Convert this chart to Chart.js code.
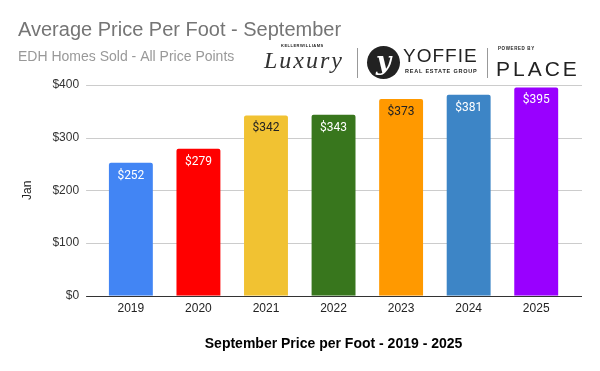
<!DOCTYPE html>
<html>
<head>
<meta charset="utf-8">
<script src="https://cdn.jsdelivr.net/npm/chart.js@4"></script>
<style>
  body { margin: 0; background: #fff; }
  #wrap { position: relative; width: 600px; height: 371px; }
  .logo { position: absolute; color: #222; font-family: "Liberation Sans", Arial, sans-serif; white-space: nowrap; }
  .rule { position: absolute; width: 1px; background: #999; }
</style>
</head>
<body>
<div id="wrap">
  <canvas id="chart" width="600" height="371"></canvas>

  <div class="logo" style="left:281px;top:43px;font-size:4px;font-weight:bold;letter-spacing:0.5px;">KELLERWILLIAMS</div>
  <div class="logo" style="left:264px;top:47px;font-size:24px;font-family:'Liberation Serif',serif;font-style:italic;letter-spacing:2px;color:#333;">Luxury</div>
  <div class="rule" style="left:357px;top:48px;height:30px;"></div>
  <div class="logo" style="left:367px;top:46px;width:33px;height:33px;border-radius:50%;background:#222;color:#fff;font-family:'DejaVu Serif',serif;font-style:italic;font-weight:bold;font-size:26px;line-height:30px;text-align:center;">y</div>
  <div class="logo" style="left:403px;top:45px;font-size:19px;letter-spacing:1px;">YOFFIE</div>
  <div class="logo" style="left:405px;top:68px;font-size:5.5px;font-weight:bold;letter-spacing:0.8px;">REAL ESTATE GROUP</div>
  <div class="rule" style="left:487px;top:48px;height:30px;"></div>
  <div class="logo" style="left:498px;top:46px;font-size:4.5px;font-weight:bold;letter-spacing:0.6px;">POWERED BY</div>
  <div class="logo" style="left:496px;top:57px;font-size:21px;letter-spacing:3px;">PLACE</div>
</div>
<script>
const years = ['2019', '2020', '2021', '2022', '2023', '2024', '2025'];
const pricePerFoot = [252, 279, 342, 343, 373, 381, 395];
const barColors = ['#4285f4', '#ff0000', '#f1c232', '#38761d', '#ff9900', '#3d85c6', '#9900ff'];
const labelColors = ['#fff', '#fff', '#222', '#fff', '#222', '#fff', '#fff'];
const yTicks = [0, 100, 200, 300, 400];

// grid lines reach a bit past the bars on both sides, like the sheet export
const gridPlugin = {
  id: 'sheetGrid',
  beforeDatasetsDraw(chart) {
    const { ctx, chartArea, scales } = chart;
    ctx.save();
    ctx.lineWidth = 1;
    ctx.strokeStyle = '#cccccc';
    yTicks.forEach(v => {
      if (v === 0) return;
      const y = Math.round(scales.y.getPixelForValue(v)) + 0.5;
      ctx.beginPath();
      ctx.moveTo(chartArea.left - 11, y);
      ctx.lineTo(chartArea.right + 12, y);
      ctx.stroke();
    });
    ctx.restore();
  },
  afterDatasetsDraw(chart) {
    const { ctx, chartArea, scales } = chart;
    ctx.save();
    ctx.strokeStyle = '#333';
    ctx.lineWidth = 1;
    const y = Math.round(scales.y.getPixelForValue(0)) + 0.5;
    ctx.beginPath();
    ctx.moveTo(chartArea.left - 11, y);
    ctx.lineTo(chartArea.right + 12, y);
    ctx.stroke();

    // value labels inside the top of each bar
    const meta = chart.getDatasetMeta(0);
    ctx.font = '12px Roboto';
    ctx.textAlign = 'center';
    ctx.textBaseline = 'middle';
    meta.data.forEach((bar, i) => {
      ctx.fillStyle = labelColors[i];
      ctx.fillText('$' + pricePerFoot[i], bar.x, bar.y + 13);
    });
    ctx.restore();
  }
};

new Chart(document.getElementById('chart'), {
  type: 'bar',
  data: {
    labels: years,
    datasets: [{
      data: pricePerFoot,
      backgroundColor: barColors,
      borderRadius: 2,
      categoryPercentage: 1,
      barPercentage: 0.65
    }]
  },
  options: {
    responsive: false,
    animation: false,
    layout: { padding: { left: 18, right: 30, top: 0, bottom: 18 } },
    plugins: {
      legend: { display: false },
      tooltip: { enabled: false },
      title: {
        display: true,
        text: 'Average Price Per Foot - September',
        align: 'start',
        color: '#757575',
        font: { family: 'Liberation Sans', size: 20, weight: 'normal' },
        padding: { top: 18, bottom: 7 }
      },
      subtitle: {
        display: true,
        text: 'EDH Homes Sold - All Price Points',
        align: 'start',
        color: '#999999',
        font: { family: 'Liberation Sans', size: 14 },
        padding: { top: 0, bottom: 19 }
      }
    },
    scales: {
      x: {
        grid: { display: false, drawTicks: false },
        border: { display: false },
        ticks: {
          color: '#222',
          padding: 6,
          font: { family: 'Liberation Sans', size: 12 }
        },
        title: {
          display: true,
          text: 'September Price per Foot - 2019 - 2025',
          color: '#000',
          font: { family: 'Liberation Sans', size: 14, weight: 'bold' },
          padding: { top: 14, bottom: 0 }
        }
      },
      y: {
        min: 0,
        max: 400,
        grid: { display: false, drawTicks: false },
        border: { display: false },
        afterBuildTicks(scale) {
          scale.ticks = yTicks.map(v => ({ value: v }));
        },
        ticks: {
          color: '#333',
          padding: 18,
          font: { family: 'Liberation Sans', size: 12 },
          callback: v => '$' + v
        },
        title: {
          display: true,
          text: 'Jan',
          color: '#222',
          font: { family: 'Liberation Sans', size: 12 },
          padding: { top: 2, bottom: 0 }
        }
      }
    }
  },
  plugins: [gridPlugin]
});
</script>
</body>
</html>
